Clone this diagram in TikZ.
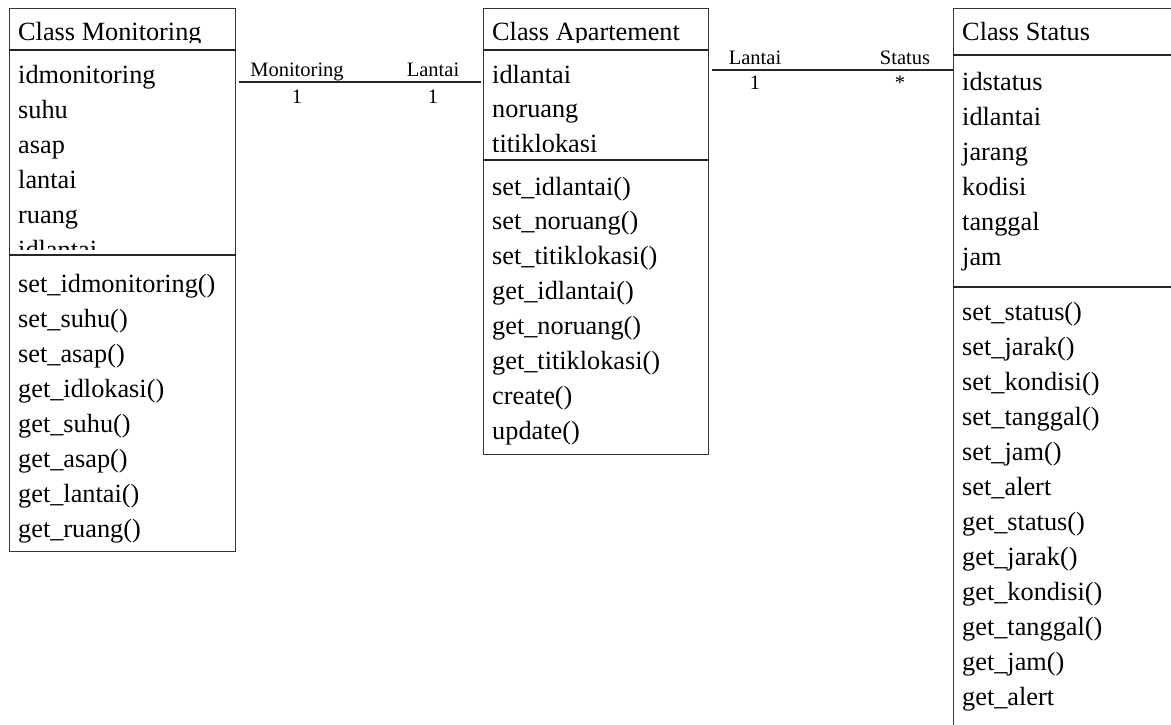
\documentclass[tikz,border=0pt]{standalone}
\usepackage{fontspec}
\setmainfont{Liberation Serif}
\tikzset{
  box/.style={draw=black!80, line width=1pt, anchor=north west, inner sep=0pt},
  sepline/.style={draw=black!85, line width=1.8pt},
  conn/.style={draw=black!85, line width=1.8pt},
  member/.style={anchor=base west, inner sep=0pt, font=\fontsize{26.3}{30}\selectfont},
  role/.style={anchor=base, inner sep=0pt, font=\fontsize{20.5}{24}\selectfont},
}
\begin{document}
\begin{tikzpicture}[x=1pt,y=-1pt]
\clip (0,0) rectangle (1171,724);
\fill[white] (0,0) rectangle (1171,724);

% ---------- Class Monitoring ----------
\node[box, minimum width=226pt, minimum height=543pt] (mon) at (9,8) {};
\draw[sepline] (mon.west |- 0,50) -- (mon.east |- 0,50);
\draw[sepline] (mon.west |- 0,255) -- (mon.east |- 0,255);
\begin{scope}
  \clip (9,8) rectangle (235,42);
  \node[member] (mon-title) at (18,40) {Class Monitoring};
\end{scope}
\begin{scope}
  \clip (9,51) rectangle (235,249);
  \foreach \t [count=\i from 0] in {idmonitoring,suhu,asap,lantai,ruang,idlantai}
    \node[member] (mon-a\i) at (18,83+35.1*\i) {\t};
\end{scope}
\foreach \t [count=\i from 0] in {set\_idmonitoring(),set\_suhu(),set\_asap(),get\_idlokasi(),get\_suhu(),get\_asap(),get\_lantai(),get\_ruang()}
  \node[member] (mon-m\i) at (18,292+35*\i) {\t};

% ---------- Class Apartement ----------
\node[box, minimum width=225pt, minimum height=446pt] (apt) at (483,8) {};
\draw[sepline] (apt.west |- 0,50) -- (apt.east |- 0,50);
\draw[sepline] (apt.west |- 0,160) -- (apt.east |- 0,160);
\begin{scope}
  \clip (483,8) rectangle (708,42.5);
  \node[member] (apt-title) at (492,40) {Class Apartement};
\end{scope}
\begin{scope}
  \clip (483,51) rectangle (708,151);
  \foreach \t [count=\i from 0] in {idlantai,noruang,titiklokasi}
    \node[member] (apt-a\i) at (492,83+34.5*\i) {\t};
\end{scope}
\foreach \t [count=\i from 0] in {set\_idlantai(),set\_noruang(),set\_titiklokasi(),get\_idlantai(),get\_noruang(),get\_titiklokasi(),create(),update()}
  \node[member] (apt-m\i) at (492,195+34.9*\i) {\t};

% ---------- Class Status ----------
\node[box, minimum width=260pt, minimum height=760pt] (sta) at (953,8) {};
\draw[sepline] (sta.west |- 0,55) -- (1171,55);
\draw[sepline] (sta.west |- 0,287) -- (1171,287);
\node[member] (sta-title) at (962,40) {Class Status};
\foreach \t [count=\i from 0] in {idstatus,idlantai,jarang,kodisi,tanggal,jam}
  \node[member] (sta-a\i) at (962,90+35*\i) {\t};
\foreach \t [count=\i from 0] in {set\_status(),set\_jarak(),set\_kondisi(),set\_tanggal(),set\_jam(),set\_alert,get\_status(),get\_jarak(),get\_kondisi(),get\_tanggal(),get\_jam(),get\_alert}
  \node[member] (sta-m\i) at (962,320+35*\i) {\t};

% ---------- Associations ----------
\draw[conn] ([xshift=2.5pt,yshift=-74pt]mon.north east) -- ([xshift=-2.5pt,yshift=-74pt]apt.north west);
\node[role] (r1a) at (297,76) {Monitoring};
\node[role] (r1b) at (433,76) {Lantai};
\node[role] (m1a) at (297,103) {1};
\node[role] (m1b) at (433,103) {1};

\draw[conn] ([xshift=2.5pt,yshift=-62pt]apt.north east) -- ([yshift=-62pt]sta.north west);
\node[role] (r2a) at (755,64) {Lantai};
\node[role] (r2b) at (905,64) {Status};
\node[role] (m2a) at (755,89) {1};
\node[role] (m2b) at (900,89) {*};
\end{tikzpicture}
\end{document}
